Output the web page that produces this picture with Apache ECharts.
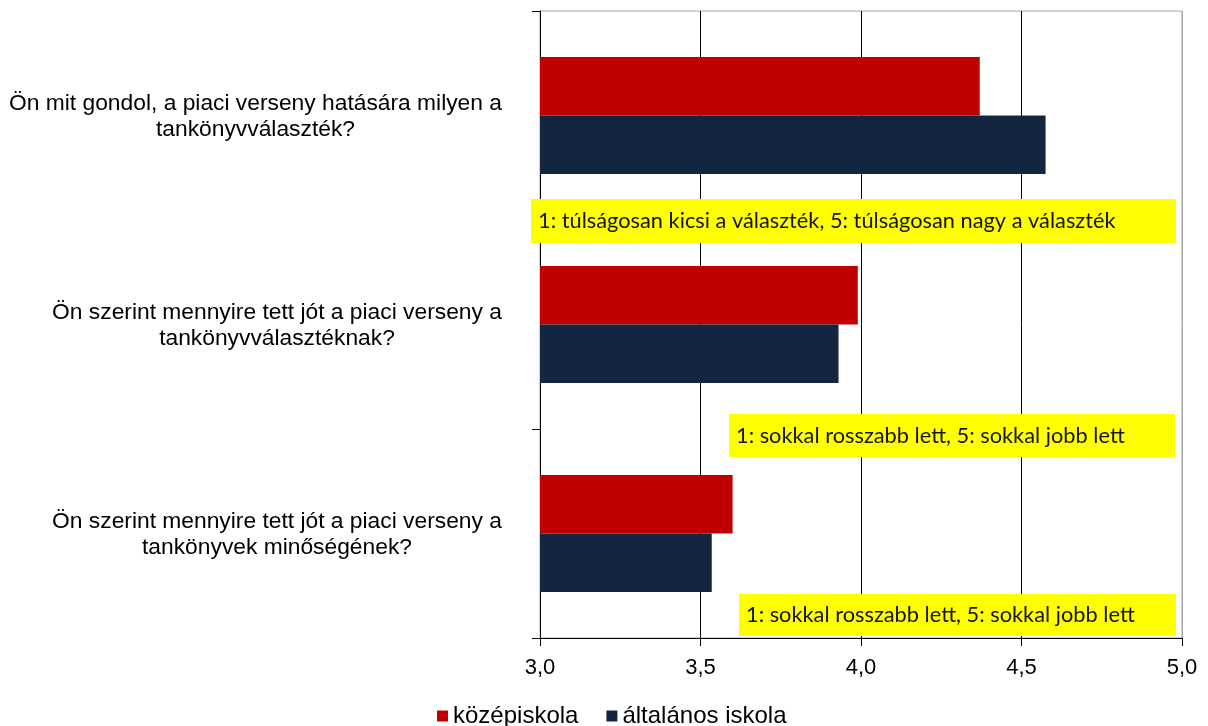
<!DOCTYPE html>
<html>
<head>
<meta charset="utf-8">
<script src="https://cdn.jsdelivr.net/npm/echarts@6/dist/echarts.min.js"></script>
<style>
html,body{margin:0;padding:0;background:#fff;}
#chart{width:1208px;height:726px;}
</style>
</head>
<body>
<div id="chart"></div>
<script>
// ---- data ----
const categories = [
  "Ön mit gondol, a piaci verseny hatására milyen a\ntankönyvválaszték?",
  "Ön szerint mennyire tett jót a piaci verseny a\ntankönyvválasztéknak?",
  "Ön szerint mennyire tett jót a piaci verseny a\ntankönyvek minőségének?"
];
const seriesNames = ["középiskola", "általános iskola"];
const kozepiskola = [4.37, 3.99, 3.60];
const altalanos = [4.575, 3.93, 3.535];
const scaleNotes = [
  "1: túlságosan kicsi a választék, 5: túlságosan nagy a választék",
  "1: sokkal rosszabb lett, 5: sokkal jobb lett",
  "1: sokkal rosszabb lett, 5: sokkal jobb lett"
];
const xMin = 3, xMax = 5, xStep = 0.5;

// ---- chart ----
const chart = echarts.init(document.getElementById('chart'));
const labelFont = '"Liberation Sans", Arial, sans-serif';
const noteFont = 'Lato, "Open Sans", sans-serif';
const catFontSize = 22.8;

// measure widest line of each category so lines can be centred within the label block
const ctx = document.createElement('canvas').getContext('2d');
ctx.font = catFontSize + 'px ' + labelFont;
const rich = {};
categories.forEach((c, i) => {
  const w = Math.max(...c.split('\n').map(l => ctx.measureText(l).width));
  rich['c' + i] = {width: Math.ceil(w), align: 'center', fontSize: catFontSize, lineHeight: 26, color: '#000', fontFamily: labelFont};
});

const notePos = [
  {x: 531, y: 199, w: 645, h: 44},
  {x: 729, y: 414, w: 446, h: 43},
  {x: 739, y: 594, w: 437, h: 42}
];
const graphics = [];
scaleNotes.forEach((t, i) => {
  const p = notePos[i];
  graphics.push({type: 'rect', z: 50, shape: {x: p.x, y: p.y, width: p.w, height: p.h}, style: {fill: '#FFFF00'}});
  graphics.push({type: 'text', z: 51, x: p.x + 7, y: p.y + p.h / 2,
    style: {text: t, font: '21.8px ' + noteFont, fill: '#161616', verticalAlign: 'middle'}});
});

chart.setOption({
  animation: false,
  textStyle: {fontFamily: labelFont},
  grid: {left: 540, right: 26, top: 11, bottom: 88, show: true, borderColor: '#a6a6a6', borderWidth: 1, backgroundColor: 'transparent'},
  legend: {
    data: seriesNames,
    top: 699,
    left: 432,
    icon: 'rect',
    itemWidth: 11,
    itemHeight: 11,
    itemGap: 28,
    textStyle: {fontSize: 24, color: '#000', fontFamily: labelFont}
  },
  xAxis: {
    type: 'value', min: xMin, max: xMax, interval: xStep,
    axisLine: {show: true, lineStyle: {color: '#000', width: 1}},
    axisTick: {show: true, length: 8, lineStyle: {color: '#000'}},
    axisLabel: {fontSize: 22, color: '#000', margin: 19, fontFamily: labelFont,
      formatter: v => v.toFixed(1).replace('.', ',')},
    splitLine: {show: true, lineStyle: {color: ['#000', '#000', '#000', '#000', '#a6a6a6'], width: 1}}
  },
  yAxis: {
    type: 'category', data: categories, inverse: true,
    axisLine: {show: true, lineStyle: {color: '#000', width: 1}},
    axisTick: {show: true, length: 8, lineStyle: {color: '#000'}},
    axisLabel: {
      fontSize: catFontSize, color: '#000', margin: 38, lineHeight: 26, fontFamily: labelFont,
      padding: [3, 0, 0, 0],
      formatter: function (v, idx) {
        return v.split('\n').map(l => '{c' + idx + '|' + l + '}').join('\n');
      },
      rich: rich
    },
    splitLine: {show: false}
  },
  series: [
    {name: seriesNames[0], type: 'bar', data: kozepiskola, barGap: '0%', barCategoryGap: '44%',
      itemStyle: {color: '#C00000'}},
    {name: seriesNames[1], type: 'bar', data: altalanos, barGap: '0%', barCategoryGap: '44%',
      itemStyle: {color: '#14263F'}}
  ],
  graphic: graphics
});
</script>
</body>
</html>
